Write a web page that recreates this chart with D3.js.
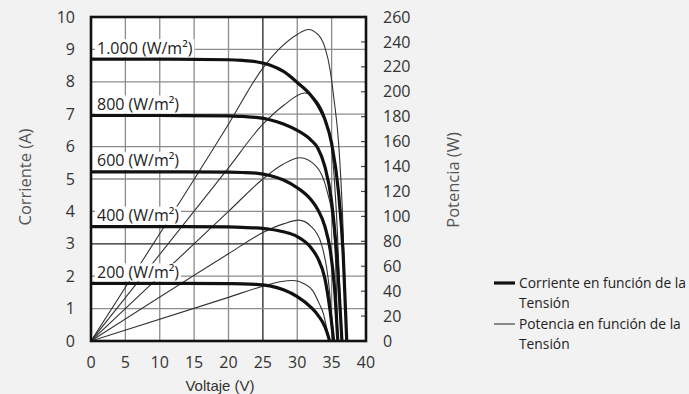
<!DOCTYPE html>
<html>
<head>
<meta charset="utf-8">
<script src="https://cdn.jsdelivr.net/npm/d3@7"></script>
<style>
  body { margin: 0; background: #f2f2f2; }
  svg { display: block; }
  .tick { font-family: 'Open Sans', sans-serif; font-size: 16px; fill: #333; }
  .title { font-family: 'Open Sans', sans-serif; font-size: 16.5px; fill: #555; }
  .irr { font-family: 'Open Sans', sans-serif; font-size: 16px; fill: #222; }
  .legend { font-family: 'Open Sans', sans-serif; font-size: 13.8px; fill: #222; }
</style>
</head>
<body>
<svg width="689" height="394"></svg>
<script>
const svg = d3.select('svg')

// data
const irradiance = ['1.000', '800', '600', '400', '200']
const voltTicks = [0, 5, 10, 15, 20, 25, 30, 35, 40]
const currentTicks = [0, 1, 2, 3, 4, 5, 6, 7, 8, 9, 10]
const powerTicks = [0, 20, 40, 60, 80, 100, 120, 140, 160, 180, 200, 220, 240, 260]
const darkGridV = [25]
const darkGridI = [3]

// [V, A]
const current1000 = [[0,8.70],[10,8.70],[20,8.68],[22,8.66],[24,8.62],[26,8.52],[28,8.32],[30,7.98],[32,7.58],[33,7.28],[34,6.85],[35,6.1],[36,4.6],[36.7,2.6],[37.2,0]]
const current800 = [[0,6.96],[10,6.96],[20,6.95],[22,6.93],[24,6.90],[26,6.83],[28,6.70],[30,6.50],[32,6.20],[33,5.95],[34,5.4],[35,4.3],[35.8,2.5],[36.5,0]]
const current600 = [[0,5.22],[10,5.22],[20,5.21],[22,5.20],[24,5.18],[26,5.11],[28,4.97],[30,4.73],[32,4.36],[33,4.05],[34,3.55],[34.8,2.8],[35.4,1.7],[35.9,0]]
const current400 = [[0,3.53],[10,3.53],[20,3.52],[22,3.51],[24,3.49],[26,3.45],[28,3.37],[30,3.22],[32,2.88],[33,2.55],[34,1.95],[34.8,0.9],[35.3,0]]
const current200 = [[0,1.78],[10,1.78],[20,1.77],[22,1.765],[24,1.745],[26,1.70],[28,1.58],[30,1.37],[32,1.04],[33,0.80],[34,0.45],[34.5,0.15],[34.7,0]]

// [V, W]
const power1000 = [[0,0],[20,174],[25,219],[27.5,235],[30,246],[31.6,250],[33,246],[34,236],[34.8,217],[35.3,196],[36,160],[36.6,100],[37.2,0]]
const power800 = [[0,0],[20,139],[25,174],[28,189],[31.1,199],[32.8,193],[34,180],[35,155],[35.8,92],[36.5,0]]
const power600 = [[0,0],[20,104],[25,130],[28,142],[30.4,147],[32.8,140],[34.3,121],[35.2,95],[35.6,60],[35.9,0]]
const power400 = [[0,0],[20,70],[25,87],[28,94],[30.2,97],[32,92],[33.5,78],[34.5,50],[35.3,0]]
const power200 = [[0,0],[20,35],[25,44],[27.5,47.5],[29.4,48.5],[31,46],[32.3,40],[33.2,30],[33.8,22],[34.3,10],[34.7,0]]

const currents = [current1000, current800, current600, current400, current200]
const powers = [power1000, power800, power600, power400, power200]

const legendItems = [
  {lines: ['Corriente en función de la', 'Tensión'], width: 3.2, color: '#111'},
  {lines: ['Potencia en función de la', 'Tensión'], width: 1.1, color: '#333'}
]

const x = d3.scaleLinear().domain([0, 40]).range([91, 366])
const yI = d3.scaleLinear().domain([0, 10]).range([341, 17])
const yP = d3.scaleLinear().domain([0, 260]).range([341, 17])

/* plot background */
svg.append('rect')
  .attr('x', x(0)).attr('y', yI(10))
  .attr('width', x(40) - x(0)).attr('height', yI(0) - yI(10))
  .attr('fill', '#fff')

svg.append('clipPath').attr('id', 'clip').append('rect')
  .attr('x', x(0)).attr('y', yI(10))
  .attr('width', x(40) - x(0)).attr('height', yI(0) - yI(10))

/* grid */
const $grid = svg.append('g')
$grid.selectAll('.gv').data(voltTicks)
  .enter().append('line')
  .attr('x1', d => x(d)).attr('x2', d => x(d))
  .attr('y1', yI(10)).attr('y2', yI(0))
  .attr('stroke', d => darkGridV.includes(d) ? '#222' : '#8c8c8c')
  .attr('stroke-width', 1.3)
$grid.selectAll('.gh').data(currentTicks)
  .enter().append('line')
  .attr('y1', d => yI(d)).attr('y2', d => yI(d))
  .attr('x1', x(0)).attr('x2', x(40))
  .attr('stroke', d => darkGridI.includes(d) ? '#222' : '#8c8c8c')
  .attr('stroke-width', 1.3)

/* inner ticks of the power axis */
$grid.selectAll('.pt').data(powerTicks)
  .enter().append('line')
  .attr('x1', x(40) - 5).attr('x2', x(40))
  .attr('y1', d => yP(d)).attr('y2', d => yP(d))
  .attr('stroke', '#444').attr('stroke-width', 1.2)

/* irradiance labels with white box */
const $irr = svg.append('g')
$irr.selectAll('g').data(irradiance)
  .enter().append('g')
  .attr('transform', (d, i) => `translate(${x(0) + 6},${yI(currents[i][0][1]) - 11})`)
  .each(function(d) {
    const g = d3.select(this)
    const t = g.append('text').classed('irr', true)
      .attr('dy', '0.35em')
      .text(d + ' (W/m²)')
    const w = t.node().getComputedTextLength()
    g.insert('rect', 'text')
      .attr('x', -2).attr('y', -9)
      .attr('width', w + 4).attr('height', 18)
      .attr('fill', '#fff')
  })

/* curves */
const $curves = svg.append('g').attr('clip-path', 'url(#clip)')
const lineI = d3.line().x(d => x(d[0])).y(d => yI(d[1])).curve(d3.curveMonotoneX)
const lineP = d3.line().x(d => x(d[0])).y(d => yP(d[1])).curve(d3.curveMonotoneX)

$curves.selectAll('.p').data(powers)
  .enter().append('path')
  .attr('d', lineP)
  .attr('fill', 'none').attr('stroke', '#333').attr('stroke-width', 1.1)

$curves.selectAll('.c').data(currents)
  .enter().append('path')
  .attr('d', lineI)
  .attr('fill', 'none').attr('stroke', '#111').attr('stroke-width', 3.2)

svg.node().appendChild($irr.node())

/* frame */
svg.append('rect')
  .attr('x', x(0)).attr('y', yI(10))
  .attr('width', x(40) - x(0)).attr('height', yI(0) - yI(10))
  .attr('fill', 'none').attr('stroke', '#111').attr('stroke-width', 2.6)

/* tick labels */
svg.append('g').selectAll('text').data(currentTicks)
  .enter().append('text').classed('tick', true)
  .attr('x', 75).attr('y', d => yI(d)).attr('dy', '0.35em')
  .attr('text-anchor', 'end')
  .text(d => d)

svg.append('g').selectAll('text').data(powerTicks)
  .enter().append('text').classed('tick', true)
  .attr('x', 383).attr('y', d => yP(d)).attr('dy', '0.35em')
  .text(d => d)

svg.append('g').selectAll('text').data(voltTicks)
  .enter().append('text').classed('tick', true)
  .attr('x', d => x(d)).attr('y', 368)
  .attr('text-anchor', 'middle')
  .text(d => d)

/* titles */
svg.append('text').classed('title', true)
  .attr('transform', 'translate(31,177) rotate(-90)')
  .attr('text-anchor', 'middle')
  .text('Corriente (A)')

svg.append('text').classed('title', true)
  .attr('transform', 'translate(459,180) rotate(-90)')
  .attr('text-anchor', 'middle')
  .text('Potencia (W)')

svg.append('text')
  .attr('x', 220).attr('y', 391)
  .attr('text-anchor', 'middle')
  .style('font-family', "'Liberation Sans', Arial, sans-serif")
  .style('font-size', '15px').style('fill', '#333')
  .text('Voltaje (V)')

/* legend */
const $legend = svg.append('g').attr('transform', 'translate(494,283)')
$legend.selectAll('g').data(legendItems)
  .enter().append('g')
  .attr('transform', (d, i) => `translate(0,${i * 41})`)
  .each(function(d) {
    const g = d3.select(this)
    g.append('line')
      .attr('x1', 0).attr('x2', 21)
      .attr('stroke', d.color).attr('stroke-width', d.width)
    g.selectAll('text').data(d.lines)
      .enter().append('text').classed('legend', true)
      .attr('x', 25).attr('y', (_, j) => j * 20).attr('dy', '0.35em')
      .text(t => t)
  })
</script>
</body>
</html>
